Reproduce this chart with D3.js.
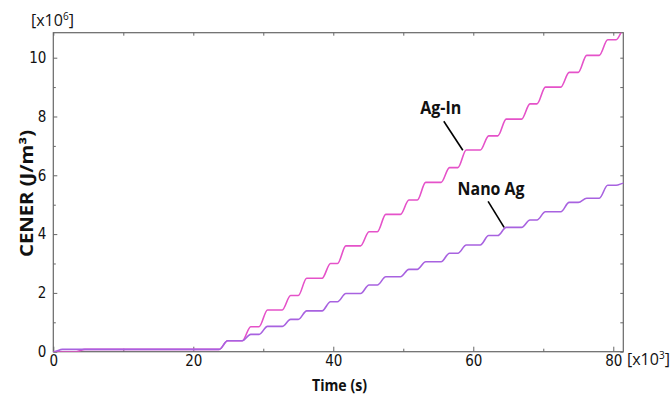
<!DOCTYPE html>
<html>
<head>
<meta charset="utf-8">
<script src="https://cdn.jsdelivr.net/npm/d3@7.9.0/dist/d3.min.js"></script>
<style>
  body { margin: 0; background: #fff; }
  .tick text { font-family: "DejaVu Sans Condensed", "DejaVu Sans", sans-serif; font-size: 15px; fill: #111; }
  .tick line { stroke: #666; }
  .title { font-family: "Open Sans", sans-serif; font-weight: bold; fill: #111; }
</style>
</head>
<body>
<svg width="670" height="396"></svg>
<script>
// times in 10^3 s, energy in 10^6 J/m^3
const stepTimes = [24.3, 27.6, 30.0, 33.3, 35.6, 39.0, 41.2, 44.5, 46.9, 50.2, 52.6,
                   56.0, 58.4, 61.6, 64.1, 67.5, 69.7, 73.1, 75.6, 78.6, 81.0];
// level before the first step, then the level after each step
const agInLevels = [0.08, 0.37, 0.85, 1.42, 1.91, 2.50, 3.00, 3.60, 4.08, 4.67, 5.16,
                    5.76, 6.26, 6.86, 7.34, 7.91, 8.43, 9.00, 9.50, 10.08, 10.61, 11.0];
const nanoAgLevels = [0.08, 0.37, 0.59, 0.86, 1.10, 1.39, 1.70, 1.98, 2.27, 2.55, 2.80,
                      3.06, 3.35, 3.63, 3.95, 4.23, 4.48, 4.76, 5.08, 5.22, 5.66, 5.74];
// small rise right at the start
const agInOnset = 3.9;
const nanoAgOnset = 0.7;

const xTicks = [0, 20, 40, 60, 80];
const xMinorTicks = [10, 30, 50, 70];
const yTicks = [0, 2, 4, 6, 8, 10];
const yMinorTicks = [1, 3, 5, 7, 9];

const series = [
  { name: 'Ag-In', onset: agInOnset, levels: agInLevels, color: '#e552c9',
    at: [58.5, 6.85], label: [-22, -36], lineFrom: [-19, -29] },
  { name: 'Nano Ag', onset: nanoAgOnset, levels: nanoAgLevels, color: '#a862e0',
    at: [64.4, 4.23], label: [-13, -32], lineFrom: [-16, -26] }
];

const svg = d3.select('svg');

const x = d3.scaleLinear().domain([0, 81.43]).range([53.3, 623.3]);
const y = d3.scaleLinear().domain([0, 10.85]).range([351.7, 32.7]);

svg.append('clipPath').attr('id', 'plot')
  .append('rect')
  .attr('x', x(0)).attr('y', y.range()[1])
  .attr('width', x.range()[1] - x(0)).attr('height', y(0) - y.range()[1]);

function stepPoints(onset, levels) {
  const h = 0.6;
  const times = [onset, ...stepTimes];
  const lv = [0, ...levels];
  const pts = [[0, 0]];
  times.forEach((t, i) => {
    pts.push([t - h, lv[i]], [t + h, lv[i + 1]]);
  });
  pts.push([x.domain()[1], lv[lv.length - 1]]);
  return pts;
}

const line = d3.line()
  .x(d => x(d[0]))
  .y(d => y(d[1]))
  .curve(d3.curveMonotoneX);

// axes, ticks pointing inward
const noDomain = g => g.select('.domain').remove();

svg.append('g').attr('transform', `translate(0,${y(0)})`)
  .call(d3.axisBottom(x).tickValues(xTicks).tickSize(-5).tickPadding(4).tickFormat(d3.format('d')))
  .call(noDomain);
svg.append('g').attr('transform', `translate(0,${y(0)})`)
  .call(d3.axisBottom(x).tickValues(xMinorTicks).tickSize(-3).tickFormat(''))
  .call(noDomain);
svg.append('g').attr('transform', `translate(0,${y.range()[1]})`)
  .call(d3.axisTop(x).tickValues([...xTicks, ...xMinorTicks]).tickSize(-3).tickFormat(''))
  .call(noDomain);

svg.append('g').attr('transform', `translate(${x(0)},0)`)
  .call(d3.axisLeft(y).tickValues(yTicks).tickSize(-4).tickPadding(7).tickFormat(d3.format('d')))
  .call(noDomain);
svg.append('g').attr('transform', `translate(${x(0)},0)`)
  .call(d3.axisLeft(y).tickValues(yMinorTicks).tickSize(-2.5).tickFormat(''))
  .call(noDomain);
svg.append('g').attr('transform', `translate(${x.range()[1]},0)`)
  .call(d3.axisRight(y).tickValues([...yTicks, ...yMinorTicks]).tickSize(-3).tickFormat(''))
  .call(noDomain);

svg.append('rect')
  .attr('x', x(0)).attr('y', y.range()[1])
  .attr('width', x.range()[1] - x(0)).attr('height', y(0) - y.range()[1])
  .attr('fill', 'none').attr('stroke', '#666').attr('stroke-width', 1.2);

// curves
series.forEach(s => {
  svg.append('path')
    .attr('d', line(stepPoints(s.onset, s.levels)))
    .attr('clip-path', 'url(#plot)')
    .attr('fill', 'none')
    .attr('stroke', s.color)
    .attr('stroke-width', 1.6);
});

// labels with pointer lines
series.forEach(s => {
  const px = x(s.at[0]), py = y(s.at[1]);
  svg.append('line')
    .attr('x1', px + s.lineFrom[0]).attr('y1', py + s.lineFrom[1])
    .attr('x2', px).attr('y2', py)
    .attr('stroke', '#000').attr('stroke-width', 1.6);
  svg.append('text').attr('class', 'title')
    .attr('x', px + s.label[0]).attr('y', py + s.label[1])
    .attr('text-anchor', 'middle')
    .attr('font-size', 18.5)
    .attr('textLength', s.name === 'Ag-In' ? 41 : 67)
    .attr('lengthAdjust', 'spacingAndGlyphs')
    .text(s.name);
});

// axis titles
svg.append('text').attr('class', 'title')
  .attr('x', 312).attr('y', 391)
  .attr('font-size', 16.5)
  .attr('textLength', 55).attr('lengthAdjust', 'spacingAndGlyphs')
  .text('Time (s)');

svg.append('text').attr('class', 'title')
  .attr('transform', 'translate(33,193.5) rotate(-90)')
  .attr('text-anchor', 'middle')
  .attr('font-size', 17.5)
  .attr('textLength', 127).attr('lengthAdjust', 'spacingAndGlyphs')
  .text('CENER (J/m³)');

function exponentLabel(xPos, yPos, exp) {
  const t = svg.append('text')
    .attr('x', xPos).attr('y', yPos)
    .attr('font-family', '"Open Sans", sans-serif')
    .attr('font-size', 16)
    .attr('fill', '#111');
  t.append('tspan').text('[x10');
  t.append('tspan').attr('dy', -6).attr('font-size', 10).text(exp);
  t.append('tspan').attr('dy', 6).text(']');
}
exponentLabel(31, 26, '6');
exponentLabel(627, 365, '3');
</script>
</body>
</html>
